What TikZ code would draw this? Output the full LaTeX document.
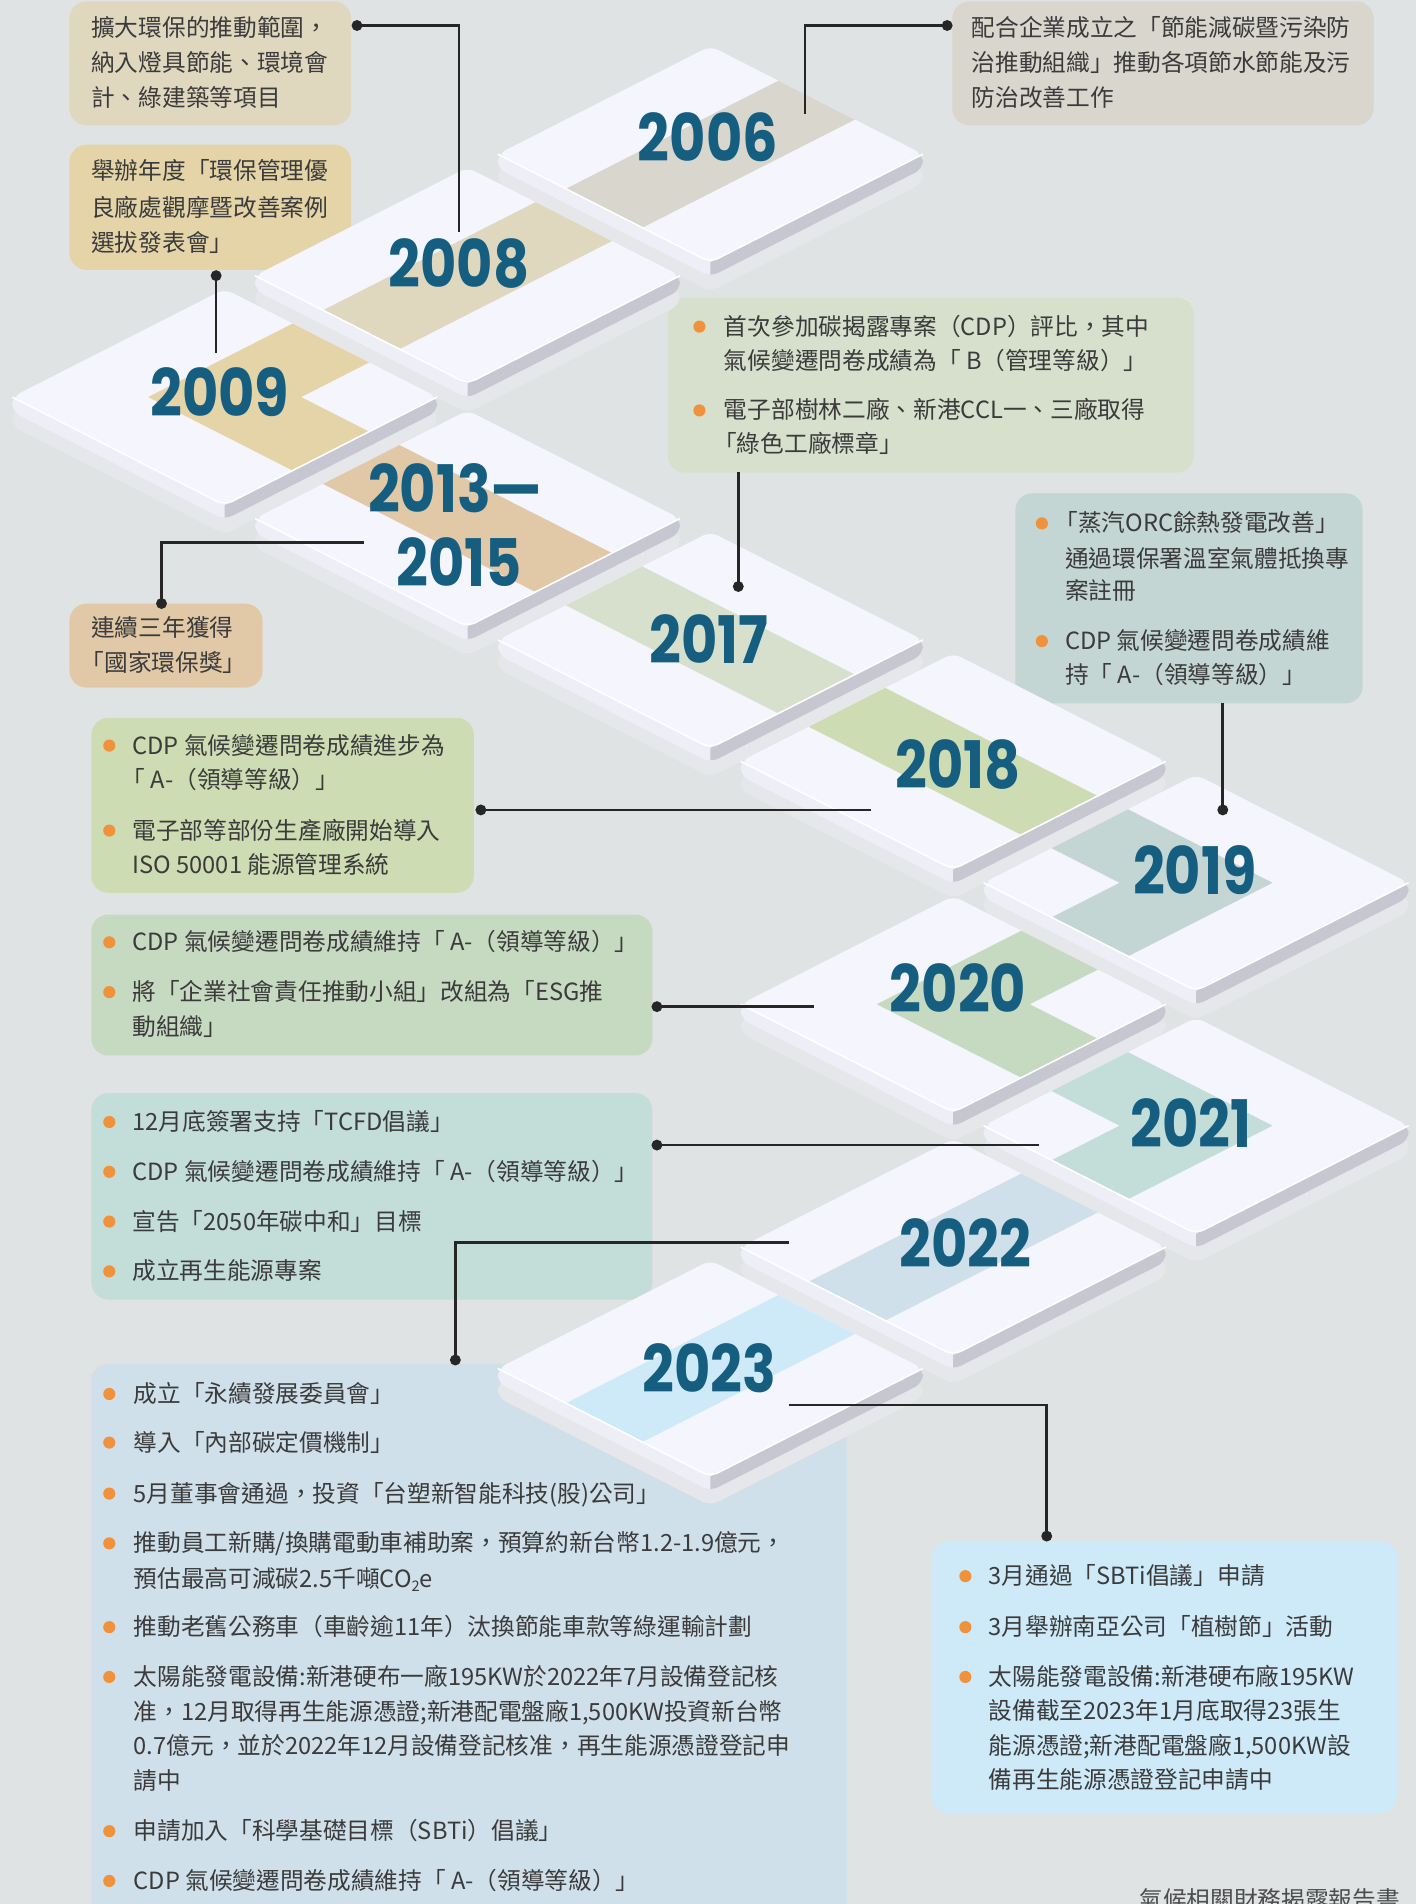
\documentclass[tikz,border=0pt]{standalone}
\usepackage{fontspec}
\usepackage{graphicx}
\setmainfont{Noto Sans CJK TC}
\newfontfamily\yearfont{Poppins}
\definecolor{bgc}{HTML}{DFE3E3}
\definecolor{txtc}{HTML}{3B3B3B}
\definecolor{footc}{HTML}{4D4D4D}
\definecolor{bulc}{HTML}{F0923B}
\definecolor{yearc}{HTML}{155E80}
\definecolor{connc}{HTML}{262626}
\definecolor{topc}{HTML}{F4F5FD}
\definecolor{leftc}{HTML}{EDEEF6}
\definecolor{rightc}{HTML}{C6C7D1}
\definecolor{shadowc}{HTML}{E6E7EA}
\definecolor{c06}{HTML}{D9D6CE}
\definecolor{c08}{HTML}{E0D7BF}
\definecolor{c09}{HTML}{E4D4A8}
\definecolor{c13}{HTML}{E1C9A7}
\definecolor{c17}{HTML}{D7E0CC}
\definecolor{c18}{HTML}{CDDCB2}
\definecolor{c19}{HTML}{C4D6D3}
\definecolor{c20}{HTML}{C6D9C1}
\definecolor{c21}{HTML}{C3DDD9}
\definecolor{c22}{HTML}{CFE0EB}
\definecolor{c23}{HTML}{CEEAF9}
\newcommand\ysq[1]{\scalebox{0.85}[1]{#1}}
\newcommand\tl[4]{\node[txt] (#1) at (#2,#3) {#4};}
\newcommand\bul[2]{\fill[bulc] (#1,#2) circle (5);}
\newcommand\lk{\kern-0.45em}
% slab: cx, cy, band colour, band type (0 NE-SW, 1 NW-SE, 2 NE->SE, 3 NW->SW)
\newcommand\slab[4]{%
\begin{scope}[shift={(#1,#2)}]
 \fill[shadowc, rounded corners=7pt] (0,-77) -- (175,12) -- (175,24) -- (0,113) -- (-175,24) -- (-175,12) -- cycle;
 \fill[leftc, rounded corners=7pt] (0,-89) -- (175,0) -- (175,12) -- (0,101) -- (-175,12) -- (-175,0) -- cycle;
 \begin{scope}
  \clip[rounded corners=7pt] (0,-89) -- (175,0) -- (175,12) -- (0,101) -- (-175,12) -- (-175,0) -- cycle;
  \fill[rightc] (0,89) -- (180,-2.5) -- (180,22) -- (0,115) -- cycle;
 \end{scope}
 \fill[topc, rounded corners=7pt] (0,-89) -- (175,0) -- (0,89) -- (-175,0) -- cycle;
 \begin{scope}
  \clip[rounded corners=7pt] (0,-89) -- (175,0) -- (0,89) -- (-175,0) -- cycle;
  \ifcase#4
   \fill[#3] (73.5,-69.4) -- (136.5,-37.4) -- (-73.5,69.4) -- (-136.5,37.4) -- cycle;
  \or
   \fill[#3] (-73.5,-69.4) -- (136.5,37.4) -- (73.5,69.4) -- (-136.5,-37.4) -- cycle;
  \or
   \fill[#3] (73.5,-69.4) -- (136.5,-37.4) -- (63,0) -- (136.5,37.4) -- (73.5,69.4) -- (-63,0) -- cycle;
  \or
   \fill[#3] (-73.5,-69.4) -- (63,0) -- (-73.5,69.4) -- (-136.5,37.4) -- (-63,0) -- (-136.5,-37.4) -- cycle;
  \fi
 \end{scope}
 \draw[white, line width=1.3pt, rounded corners=7pt] (-175,0) -- (0,89) -- (175,0);
\end{scope}}
\begin{document}
\begin{tikzpicture}[x=1pt,y=-1pt,
  txt/.style={font=\fontsize{19.5}{29}\selectfont, text=txtc, inner sep=0pt, anchor=base west},
  year/.style={font=\yearfont\bfseries\fontsize{54}{54}\selectfont, text=yearc, inner sep=0pt, anchor=base},
  box/.style={rounded corners=14pt, inner sep=0pt, anchor=north west, draw=none},
  conn/.style={draw=connc, line width=2.2pt},
  dot/.style={fill=connc}]
\useasboundingbox (0,0) rectangle (1166,1568);
\clip (0,0) rectangle (1166,1568);
\fill[bgc] (0,0) rectangle (1166,1568);

% ---------- boxes ----------
\node[box, fill=c08, minimum width=232pt, minimum height=102pt] (boxA) at (57,1) {};
\node[box, fill=c09, minimum width=232pt, minimum height=103pt] (boxB) at (57,119) {};
\node[box, fill=c06, minimum width=347pt, minimum height=102pt] (boxC) at (784,1) {};
\node[box, fill=c17, minimum width=433pt, minimum height=144pt] (boxD) at (550,245) {};
\node[box, fill=c19, minimum width=286pt, minimum height=173pt] (boxE) at (836,406) {};
\node[box, fill=c13, minimum width=159pt, minimum height=69pt] (boxF) at (57,497) {};
\node[box, fill=c18, minimum width=315pt, minimum height=144pt] (boxG) at (75,591) {};
\node[box, fill=c20, minimum width=462pt, minimum height=116pt] (boxH) at (75,753) {};
\node[box, fill=c21, minimum width=462pt, minimum height=170pt] (boxI) at (75,900) {};
\node[box, fill=c22, minimum width=622pt, minimum height=500pt] (boxJ) at (75,1123) {};
\node[box, fill=c23, minimum width=384pt, minimum height=224pt] (boxK) at (767,1269) {};

% ---------- box texts ----------
\tl{a1}{75}{30}{擴大環保的推動範圍，}
\tl{a2}{75}{59}{納入燈具節能、環境會}
\tl{a3}{75}{88}{計、綠建築等項目}

\tl{b1}{75}{148}{舉辦年度「環保管理優}
\tl{b2}{75}{178}{良廠處觀摩暨改善案例}
\tl{b3}{75}{207}{選拔發表會」}

\tl{c1}{800}{30}{配合企業成立之「節能減碳暨污染防}
\tl{c2}{800}{59}{治推動組織」推動各項節水節能及污}
\tl{c3}{800}{88}{防治改善工作}

\bul{576}{269}\bul{576}{338}
\tl{d1}{596}{276}{首次參加碳揭露專案（CDP）評比，其中}
\tl{d2}{596}{304}{氣候變遷問卷成績為「 B（管理等級）」}
\tl{d3}{596}{345}{電子部樹林二廠、新港CCL一、三廠取得}
\tl{d4}{596}{373}{\lk「綠色工廠標章」}

\bul{858}{431}\bul{858}{528}
\tl{e1}{877}{438}{\lk「蒸汽ORC餘熱發電改善」}
\tl{e2}{877}{467}{通過環保署溫室氣體抵換專}
\tl{e3}{877}{494}{案註冊}
\tl{e4}{877}{535}{CDP 氣候變遷問卷成績維}
\tl{e5}{877}{563}{持「 A-（領導等級）」}

\tl{f1}{75}{524}{連續三年獲得}
\tl{f2}{75}{553}{\lk「國家環保獎」}

\bul{90}{614}\bul{90}{684}
\tl{g1}{109}{621}{CDP 氣候變遷問卷成績進步為}
\tl{g2}{109}{649}{\lk「 A-（領導等級）」}
\tl{g3}{109}{691}{電子部等部份生產廠開始導入}
\tl{g4}{109}{719}{ISO 50001 能源管理系統}

\bul{90}{776}\bul{90}{817}
\tl{h1}{109}{783}{CDP 氣候變遷問卷成績維持「 A-（領導等級）」}
\tl{h2}{109}{824}{將「企業社會責任推動小組」改組為「ESG推}
\tl{h3}{109}{853}{動組織」}

\bul{90}{924}\bul{90}{965}\bul{90}{1006}\bul{90}{1047}
\tl{i1}{109}{931}{12月底簽署支持「TCFD倡議」}
\tl{i2}{109}{972}{CDP 氣候變遷問卷成績維持「 A-（領導等級）」}
\tl{i3}{109}{1013}{宣告「2050年碳中和」目標}
\tl{i4}{109}{1054}{成立再生能源專案}

\bul{90}{1148}\bul{90}{1188}\bul{90}{1230}\bul{90}{1271}\bul{90}{1340}\bul{90}{1381}\bul{90}{1508}\bul{90}{1549}
\tl{j1}{110}{1155}{成立「永續發展委員會」}
\tl{j2}{110}{1195}{導入「內部碳定價機制」}
\tl{j3}{110}{1237}{5月董事會通過，投資「台塑新智能科技(股)公司」}
\tl{j4}{110}{1278}{推動員工新購/換購電動車補助案，預算約新台幣1.2-1.9億元，}
\tl{j5}{110}{1307}{預估最高可減碳2.5千噸CO\raisebox{-4pt}{\fontsize{12}{12}\selectfont 2}e}
\tl{j6}{110}{1347}{推動老舊公務車（車齡逾11年）汰換節能車款等綠運輸計劃}
\tl{j7}{110}{1388}{太陽能發電設備:新港硬布一廠195KW於2022年7月設備登記核}
\tl{j8}{110}{1417}{准，12月取得再生能源憑證;新港配電盤廠1,500KW投資新台幣}
\tl{j9}{110}{1445}{0.7億元，並於2022年12月設備登記核准，再生能源憑證登記申}
\tl{j10}{110}{1474}{請中}
\tl{j11}{110}{1515}{申請加入「科學基礎目標（SBTi）倡議」}
\tl{j12}{110}{1556}{CDP 氣候變遷問卷成績維持「 A-（領導等級）」}

\bul{795}{1298}\bul{795}{1340}\bul{795}{1381}
\tl{k1}{814}{1305}{3月通過「SBTi倡議」申請}
\tl{k2}{814}{1347}{3月舉辦南亞公司「植樹節」活動}
\tl{k3}{814}{1388}{太陽能發電設備:新港硬布廠195KW}
\tl{k4}{814}{1416}{設備截至2023年1月底取得23張生}
\tl{k5}{814}{1445}{能源憑證;新港配電盤廠1,500KW設}
\tl{k6}{814}{1473}{備再生能源憑證登記申請中}

\node[txt, anchor=base east, text=footc] (foot) at (1153,1572) {氣候相關財務揭露報告書};

% ---------- slabs ----------
\slab{585}{127}{c06}{0}
\slab{385}{227}{c08}{0}
\slab{185}{327}{c09}{2}
\slab{385}{427}{c13}{1}
\slab{585}{527}{c17}{1}
\slab{785}{627}{c18}{1}
\slab{985}{727}{c19}{3}
\slab{785}{827}{c20}{2}
\slab{985}{927}{c21}{3}
\slab{785}{1027}{c22}{0}
\slab{585}{1127}{c23}{0}

% ---------- year labels ----------
\node[year] (y2006) at (583,133) {\ysq{2006}};
\node[year] (y2008) at (378,237) {\ysq{2008}};
\node[year] (y2009) at (181,343) {\ysq{2009}};
\node[year] (y2013) at (375,422) {\ysq{2013—}};
\node[year] (y2015) at (378,483) {\ysq{2015}};
\node[year] (y2017) at (584,546) {\ysq{2017}};
\node[year] (y2018) at (789,649) {\ysq{2018}};
\node[year] (y2019) at (984,737) {\ysq{2019}};
\node[year] (y2020) at (789,834) {\ysq{2020}};
\node[year] (y2021) at (981,945) {\ysq{2021}};
\node[year] (y2022) at (795,1044) {\ysq{2022}};
\node[year] (y2023) at (584,1147) {\ysq{2023}};

% ---------- connectors ----------
\coordinate (dA) at (294,21);   \coordinate (eA) at (378,191);
\coordinate (dC) at (780,21);   \coordinate (eC) at (663,94);
\coordinate (dB) at (178,227);  \coordinate (eB) at (178,291);
\coordinate (dF) at (133,497);  \coordinate (eF) at (300,447);
\coordinate (sD) at (608,389);  \coordinate (dD) at (608,483);
\coordinate (sE) at (1007,579); \coordinate (dE) at (1007,667);
\coordinate (dG) at (396,667);  \coordinate (eG) at (717,667);
\coordinate (dH) at (541,829);  \coordinate (eH) at (670,829);
\coordinate (dI) at (541,943);  \coordinate (eI) at (856,943);
\coordinate (dJ) at (375,1120); \coordinate (eJ) at (650,1023);
\coordinate (sK) at (650,1157); \coordinate (dK) at (862,1265);

\draw[conn] (dA) -| (eA);
\draw[conn] (dC) -| (eC);
\draw[conn] (dB) -- (eB);
\draw[conn] (dF) |- (eF);
\draw[conn] (sD) -- (dD);
\draw[conn] (sE) -- (dE);
\draw[conn] (dG) -- (eG);
\draw[conn] (dH) -- (eH);
\draw[conn] (dI) -- (eI);
\draw[conn] (dJ) |- (eJ);
\draw[conn] (sK) -| (dK);
\foreach \p in {dA,dC,dB,dF,dD,dE,dG,dH,dI,dJ,dK} \fill[dot] (\p) circle (4.5);
\end{tikzpicture}
\end{document}
